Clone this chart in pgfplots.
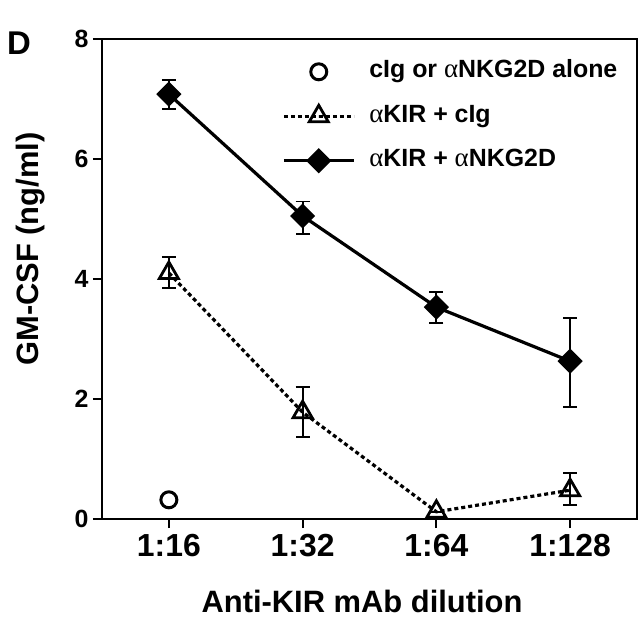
\documentclass[border=0pt]{standalone}
\usepackage{fontspec}
\setmainfont{Liberation Sans}
\newfontfamily\symfont{Liberation Serif}
\usepackage{pgfplots}
\pgfplotsset{compat=1.18}
\newcommand{\al}{{\symfont\mdseries\fontsize{27}{27}\selectfont α}}
\pgfplotsset{
  markonlyleg/.style={legend image code/.code={\draw[##1] plot coordinates {(35bp,0bp)};}},
  lineleg/.style={legend image code/.code={\draw[##1, mark repeat=2, mark phase=2] plot coordinates {(0bp,0bp)(35bp,0bp)(70bp,0bp)};}},
}
\begin{document}
\begin{tikzpicture}
\begin{axis}[
  name=ax,
  scale only axis,
  width=535bp, height=480bp,
  xmin=-0.5, xmax=3.5, ymin=0, ymax=8,
  xtick={0,1,2,3},
  xticklabels={1:16,1:32,1:64,1:128},
  ytick={0,2,4,6,8},
  minor tick num=0,
  tick pos=left,
  tick align=outside,
  major tick length=9bp,
  every tick/.style={black, line width=1.8bp},
  axis line style={line width=2.3bp},
  /pgf/number format/assume math mode=true,
  yticklabel style={font=\fontsize{25}{25}\selectfont\bfseries, xshift=-1bp},
  xticklabel style={font=\fontsize{32}{32}\selectfont\bfseries, yshift=-3bp},
  xlabel={Anti-KIR mAb dilution},
  ylabel={GM-CSF (ng/ml)},
  label style={font=\fontsize{31}{31}\selectfont\bfseries},
  xlabel style={at={(rel axis cs:0.486,-0.171)}, anchor=center},
  ylabel style={at={(rel axis cs:-0.1327,0.5625)}, anchor=center},
  legend style={at={(rel axis cs:0.3364,0.955)}, anchor=north west, draw=none, fill=none,
    inner xsep=0pt, inner ysep=0pt,
    font=\fontsize{25}{25}\selectfont\bfseries,
    nodes={inner xsep=0pt, inner ysep=0pt, text height=17bp, text depth=5bp},
    row sep=22.5bp,
    /tikz/every odd column/.append style={column sep=14bp}},
  legend cell align=left,
  error bars/y dir=both,
  error bars/y explicit,
  error bars/error bar style={line width=1.8bp, black, solid},
  error bars/error mark options={rotate=90, mark size=7bp, line width=1.8bp, black, solid},
]
\addplot[only marks, mark=o, mark size=8bp, mark options={line width=3bp, black}, markonlyleg]
  coordinates {(0,0.32)};
\addlegendentry{cIg or \al NKG2D alone}

\addplot[black, line width=3.2bp, dash pattern=on 4bp off 3bp,
  mark=triangle, mark size=11bp, mark options={solid, line width=2.8bp, fill=white}, lineleg]
  coordinates {
    (0,4.10) += (0,0.27) -= (0,0.25)
    (1,1.78) += (0,0.42) -= (0,0.41)
    (2,0.12) += (0,0) -= (0,0)
    (3,0.48) += (0,0.29) -= (0,0.25)
  };
\addlegendentry{\al KIR + cIg}

\addplot[black, line width=3.2bp,
  mark=square*, mark size=7.3bp, mark options={solid, rotate=45, fill=black}, lineleg]
  coordinates {
    (0,7.08) += (0,0.24) -= (0,0.25)
    (1,5.05) += (0,0.24) -= (0,0.30)
    (2,3.53) += (0,0.25) -= (0,0.27)
    (3,2.63) += (0,0.72) -= (0,0.76)
  };
\addlegendentry{\al KIR + \al NKG2D}
\end{axis}
\node[anchor=base west, inner sep=0pt, font=\fontsize{33}{33}\selectfont\bfseries]
  at ([xshift=-95bp, yshift=-16bp]ax.north west) {D};
\path[use as bounding box] ([xshift=-102bp,yshift=-102bp]ax.south west) rectangle ([xshift=3bp,yshift=39bp]ax.north east);
\end{tikzpicture}
\end{document}
